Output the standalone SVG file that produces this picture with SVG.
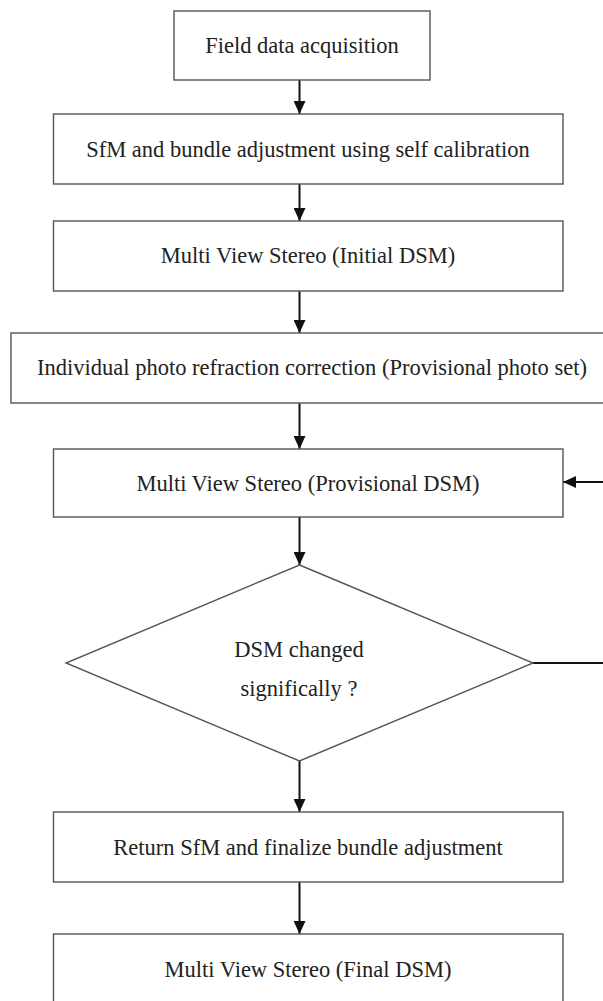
<svg xmlns="http://www.w3.org/2000/svg" width="603" height="1001" viewBox="0 0 603 1001">
<defs>
<style>
.box{fill:#fff;stroke:#555;stroke-width:1.4}
.t{font-family:"Liberation Serif","Times New Roman",serif;font-size:22.5px;fill:#222;text-anchor:middle}
.c{fill:none;stroke:#111;stroke-width:2}
</style>
<marker id="ah" markerWidth="13" markerHeight="12" refX="13" refY="6" orient="auto" markerUnits="userSpaceOnUse">
<path d="M0,0 L13,6 L0,12 Z" fill="#111"/>
</marker>
</defs>
<rect width="603" height="1001" fill="#fff"/>
<g id="connectors">
<line class="c" x1="299.5" y1="80" x2="299.5" y2="114" marker-end="url(#ah)"/>
<line class="c" x1="299.5" y1="184" x2="299.5" y2="221" marker-end="url(#ah)"/>
<line class="c" x1="299.5" y1="291" x2="299.5" y2="333" marker-end="url(#ah)"/>
<line class="c" x1="299.5" y1="403" x2="299.5" y2="449" marker-end="url(#ah)"/>
<line class="c" x1="299.5" y1="517" x2="299.5" y2="565" marker-end="url(#ah)"/>
<line class="c" x1="299.5" y1="761" x2="299.5" y2="812" marker-end="url(#ah)"/>
<line class="c" x1="299.5" y1="882" x2="299.5" y2="934" marker-end="url(#ah)"/>
<path class="c" d="M533,663 H606 V482 H563" marker-end="url(#ah)"/>
</g>
<g id="n1"><rect class="box" x="174" y="11" width="256" height="69"/><text class="t" x="302" y="53">Field data acquisition</text></g>
<g id="n2"><rect class="box" x="53.5" y="114" width="509.5" height="70"/><text class="t" x="308" y="157">SfM and bundle adjustment using self calibration</text></g>
<g id="n3"><rect class="box" x="53.5" y="221" width="509.5" height="70"/><text class="t" x="308" y="263">Multi View Stereo (Initial DSM)</text></g>
<g id="n4"><rect class="box" x="11" y="333" width="600" height="70"/><text class="t" x="312" y="375">Individual photo refraction correction (Provisional photo set)</text></g>
<g id="n5"><rect class="box" x="53.5" y="449" width="509.5" height="68"/><text class="t" x="308" y="491">Multi View Stereo (Provisional DSM)</text></g>
<g id="n6"><polygon class="box" points="299.5,565 533,663 299.5,761 66,663"/><text class="t" x="299" y="657">DSM changed</text><text class="t" x="299" y="696">significally ?</text></g>
<g id="n7"><rect class="box" x="53.5" y="812" width="509.5" height="70"/><text class="t" x="308" y="855">Return SfM and finalize bundle adjustment</text></g>
<g id="n8"><rect class="box" x="53.5" y="934" width="509.5" height="80"/><text class="t" x="308" y="977">Multi View Stereo (Final DSM)</text></g>
</svg>
